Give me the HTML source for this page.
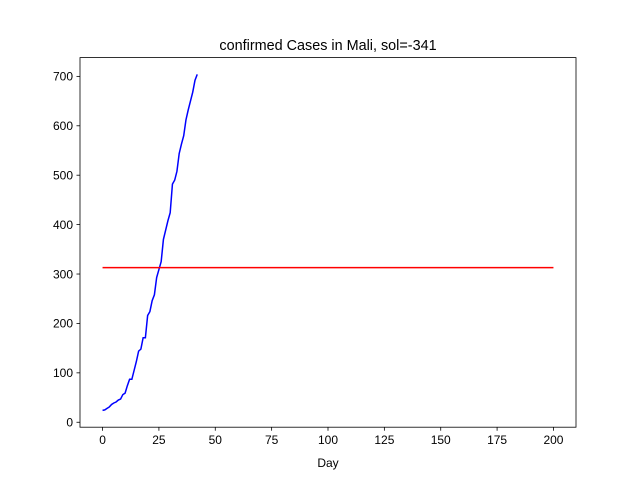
<!DOCTYPE html>
<html><head><meta charset="utf-8"><style>
body{margin:0;background:#fff;font-family:"Liberation Sans","DejaVu Sans",sans-serif}
</style></head><body>
<svg id="chart" width="640" height="480" viewBox="0 0 640 480" xmlns="http://www.w3.org/2000/svg">
<rect width="640" height="480" fill="#fff"/>
<text x="328" y="50" text-anchor="middle" font-size="14.4">confirmed Cases in Mali, sol=-341</text>
<g id="ticks"></g>
<g id="series"></g>
<rect x="80" y="57.6" width="496" height="369.6" fill="none" stroke="#000" stroke-width="0.8"/>
<text x="328" y="467" text-anchor="middle" font-size="12">Day</text>
</svg>
<script>
const cases=[24,25,28,31,36,39,41,45,47,56,59,74,87,87,105,123,144,148,171,171,216,224,246,258,293,309,325,370,389,408,424,482,490,508,544,563,580,612,632,650,668,692,704];
const solLevel=[313];
const solRange=[0,200];
const xTicks=[0,25,50,75,100,125,150,175,200];
const yTicks=[0,100,200,300,400,500,600,700];
const X0=80,X1=576,Y0=427.2,Y1=57.6,xmin=-10,xmax=210,ymin=-10,ymax=738;
const sx=v=>X0+(v-xmin)/(xmax-xmin)*(X1-X0);
const sy=v=>Y0-(v-ymin)/(ymax-ymin)*(Y0-Y1);
const NS="http://www.w3.org/2000/svg";
const tg=document.getElementById('ticks'),sg=document.getElementById('series');
function mk(tag,attrs,parent){const e=document.createElementNS(NS,tag);for(const k in attrs)e.setAttribute(k,attrs[k]);parent.appendChild(e);return e;}
xTicks.forEach(t=>{
 const l=mk('line',{x1:sx(t),x2:sx(t),y1:Y0,y2:Y0+3.5,stroke:'#000','stroke-width':0.8},tg);
 
 
 const tx=mk('text',{x:sx(t),y:Y0+17,'text-anchor':'middle','font-size':12},tg);tx.textContent=t;
 
 
});
yTicks.forEach(t=>{
 const l=mk('line',{x1:X0-3.5,x2:X0,y1:sy(t),y2:sy(t),stroke:'#000','stroke-width':0.8},tg);
 
 
 const tx=mk('text',{x:X0-7,y:sy(t)+4.3,'text-anchor':'end','font-size':12},tg);tx.textContent=t;
 
 
});
const p=mk('polyline',{points:cases.map((v,i)=>sx(i)+','+sy(v)).join(' '),fill:'none',stroke:'#0000ff','stroke-width':1.5},sg);


const r=mk('line',{x1:sx(solRange[0]),x2:sx(solRange[1]),y1:sy(solLevel[0]),y2:sy(solLevel[0]),stroke:'#ff0000','stroke-width':1.5},sg);


</script>
</body></html>
